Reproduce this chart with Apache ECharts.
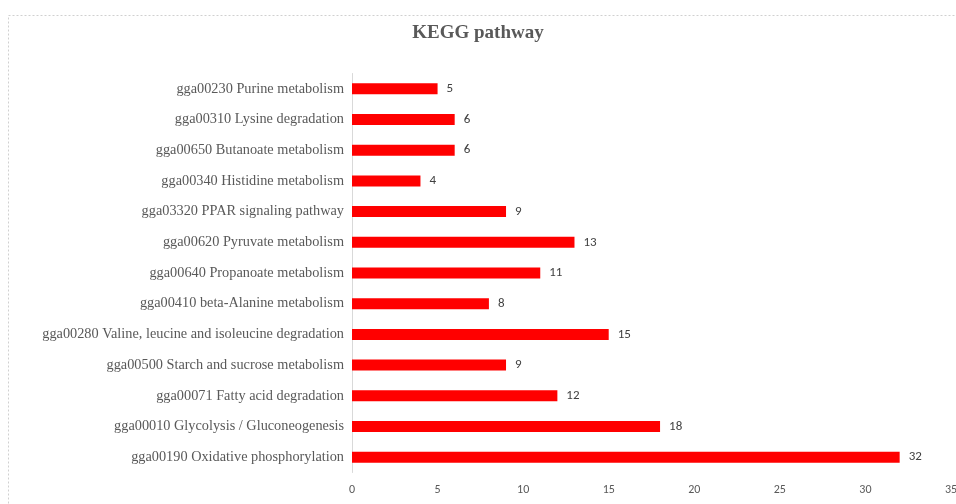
<!DOCTYPE html>
<html>
<head>
<meta charset="utf-8">
<script src="https://cdn.jsdelivr.net/npm/echarts@6/dist/echarts.min.js"></script>
<style>
html, body { margin: 0; padding: 0; background: #fff; }
#chart { width: 956px; height: 504px; }
</style>
</head>
<body>
<div id="chart"></div>
<script>
// Pathways listed bottom-to-top (category axis starts at the bottom)
const pathways = [
  'gga00190 Oxidative phosphorylation',
  'gga00010 Glycolysis / Gluconeogenesis',
  'gga00071 Fatty acid degradation',
  'gga00500 Starch and sucrose metabolism',
  'gga00280 Valine, leucine and isoleucine degradation',
  'gga00410 beta-Alanine metabolism',
  'gga00640 Propanoate metabolism',
  'gga00620 Pyruvate metabolism',
  'gga03320 PPAR signaling pathway',
  'gga00340 Histidine metabolism',
  'gga00650 Butanoate metabolism',
  'gga00310 Lysine degradation',
  'gga00230 Purine metabolism'
];
const geneCounts = [32, 18, 12, 9, 15, 8, 11, 13, 9, 4, 6, 6, 5];
const countTicks = { min: 0, max: 35, interval: 5 };

const chart = echarts.init(document.getElementById('chart'));
chart.setOption({
  animation: false,
  backgroundColor: '#ffffff',
  title: {
    text: 'KEGG pathway',
    left: 'center',
    top: 19,
    textStyle: {
      fontFamily: 'Liberation Serif',
      fontWeight: 'bold',
      fontSize: 19,
      color: '#595959'
    }
  },
  graphic: [{
    type: 'rect',
    shape: { x: 8.5, y: 15.5, width: 960, height: 520 },
    style: { fill: 'none', stroke: '#d0d0d0', lineWidth: 1, lineDash: [2, 2] },
    silent: true
  }],
  grid: {
    left: 352, right: 5, top: 73.5, bottom: 31.5,
    containLabel: false,
    outerBoundsMode: 'none'
  },
  xAxis: {
    type: 'value',
    min: countTicks.min,
    max: countTicks.max,
    interval: countTicks.interval,
    axisLine: { show: false },
    axisTick: { show: false },
    splitLine: { show: false },
    axisLabel: {
      margin: 11,
      fontFamily: 'Carlito, Liberation Sans, sans-serif',
      fontSize: 12,
      color: '#595959'
    }
  },
  yAxis: {
    type: 'category',
    data: pathways,
    axisLine: { show: true, lineStyle: { color: '#d9d9d9', width: 1 } },
    axisTick: { show: false },
    axisLabel: {
      margin: 8,
      fontFamily: 'Liberation Serif',
      fontSize: 14.3,
      color: '#595959'
    }
  },
  series: [{
    type: 'bar',
    data: geneCounts,
    barWidth: 11,
    itemStyle: { color: '#ff0000' },
    label: {
      show: true,
      position: 'right',
      distance: 9,
      fontFamily: 'Carlito, Liberation Sans, sans-serif',
      fontSize: 13,
      color: '#404040'
    }
  }]
});
</script>
</body>
</html>
